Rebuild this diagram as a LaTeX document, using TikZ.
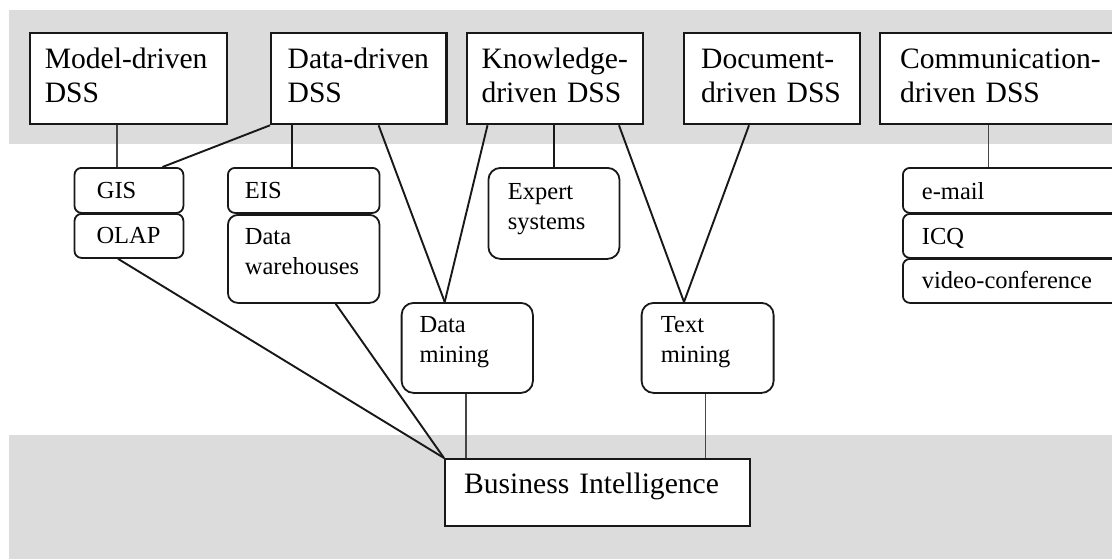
\documentclass[tikz,border=0pt]{standalone}
\usepackage{fontspec}
\setmainfont{Liberation Serif}
\usetikzlibrary{calc}
\definecolor{bandgray}{RGB}{220,220,220}
\definecolor{ink}{RGB}{24,24,24}
\definecolor{thin}{RGB}{70,70,70}
\begin{document}
\begin{tikzpicture}[x=1pt,y=-1pt,
  bigbox/.style={draw=ink, line width=2.3pt, fill=white, anchor=north west, inner ysep=0pt, align=left, font=\fontsize{29.6pt}{34pt}\selectfont},
  smallbox/.style={draw=ink, line width=1.8pt, fill=white, rounded corners=7pt, anchor=north west, inner ysep=0pt, align=left, font=\fontsize{24.5pt}{30pt}\selectfont},
  roundbox/.style={smallbox, rounded corners=12pt},
  link/.style={draw=ink, line width=1.9pt},
  stem/.style={draw=thin, line width=1.4pt},
]
\useasboundingbox (0,0) rectangle (1112,558);
\clip (0,0) rectangle (1112,558);
\fill[white] (0,0) rectangle (1112,558);
% bands
\fill[bandgray] (8.6,10) rectangle (1125,144);
\fill[bandgray] (8.6,435) rectangle (1125,570);

% top row
\node[bigbox, inner xsep=15pt, text width=167.1pt, text height=35.5pt, text depth=55.5pt] (model) at (28.6,32) {\mbox{Model-driven}\\DSS};
\node[bigbox, inner xsep=16.5pt, text width=142.4pt, text height=35.5pt, text depth=55.5pt] (data) at (270,32) {\mbox{Data-driven}\\DSS};
\node[bigbox, inner xsep=14.4pt, text width=147pt, text height=35.5pt, text depth=55.5pt] (know) at (466,32) {\mbox{Knowledge-}\\\mbox{driven DSS}};
\node[bigbox, inner xsep=17pt, text width=141.6pt, text height=35.5pt, text depth=55.5pt] (doc) at (683,32) {\mbox{Document-}\\\mbox{driven DSS}};
\node[bigbox, inner xsep=20pt, text width=260pt, text height=35.5pt, text depth=55.5pt] (comm) at (879,32) {\mbox{Communication-}\\\mbox{driven DSS}};

% middle boxes
\node[smallbox, inner xsep=22.4pt, text width=64.1pt, text height=31pt, text depth=14pt] (gis) at (73.6,167) {GIS};
\node[smallbox, inner xsep=22pt, text width=64.9pt, text height=30pt, text depth=14pt] (olap) at (73.6,213) {\mbox{OLAP}};
\node[smallbox, inner xsep=17pt, text width=117.6pt, text height=31pt, text depth=14pt] (eis) at (227,167) {EIS};
\node[roundbox, rounded corners=10pt, inner xsep=17pt, text width=117.6pt, text height=29.5pt, text depth=58.5pt] (wh) at (227,214) {Data\\warehouses};
\node[roundbox, inner xsep=19.5pt, text width=92.1pt, text height=32pt, text depth=59pt] (expert) at (487.5,167) {Expert\\systems};
\node[roundbox, inner xsep=18pt, text width=95.3pt, text height=29.7pt, text depth=60.3pt] (dm) at (400.7,302) {Data\\mining};
\node[roundbox, inner xsep=19.3pt, text width=93.4pt, text height=29.7pt, text depth=60.3pt] (tm) at (640.7,302) {Text\\mining};
\node[smallbox, inner xsep=19pt, text width=262pt, text height=32pt, text depth=13pt] (email) at (902,167) {e-mail};
\node[smallbox, inner xsep=19pt, text width=262pt, text height=30.3pt, text depth=13.7pt] (icq) at (902,213) {ICQ};
\node[smallbox, inner xsep=19pt, text width=262pt, text height=29.5pt, text depth=14.5pt] (video) at (902,258) {\mbox{video-conference}};

% bottom
\node[bigbox, inner xsep=19pt, text width=267pt, text height=34.7pt, text depth=32.3pt] (bi) at (444,458) {Business Intelligence};

% connectors
\draw[stem] ($(model.south west)+(88.4,0)$) -- ($(gis.north west)+(43.4,0)$);
\draw[link] (data.south west) -- ($(gis.north west)+(88.9,0)$);
\draw[link] ($(data.south west)+(22,0)$) -- ($(eis.north west)+(65,0)$);
\draw[link] ($(data.south west)+(108.6,0)$) -- ($(dm.north west)+(44,0)$);
\draw[link] ($(know.south west)+(21.5,0)$) -- ($(dm.north west)+(44,0)$);
\draw[link] ($(know.south west)+(87.6,0)$) -- ($(expert.north west)+(66.1,0)$);
\draw[link] ($(know.south west)+(153,0)$) -- ($(tm.north west)+(43.3,0)$);
\draw[link] ($(doc.south west)+(66,0)$) -- ($(tm.north west)+(43.3,0)$);
\draw[stem] ($(comm.south west)+(109.6,0)$) -- ($(email.north west)+(86.6,0)$);
\draw[link] ($(olap.south west)+(44.4,0)$) -- (bi.north west);
\draw[link] ($(wh.south west)+(108.7,0)$) -- (bi.north west);
\draw[stem] ($(dm.south west)+(65.3,0)$) -- ($(bi.north west)+(22,0)$);
\draw[stem] ($(tm.south west)+(65,0)$) -- ($(bi.north west)+(261.7,0)$);
\end{tikzpicture}
\end{document}
